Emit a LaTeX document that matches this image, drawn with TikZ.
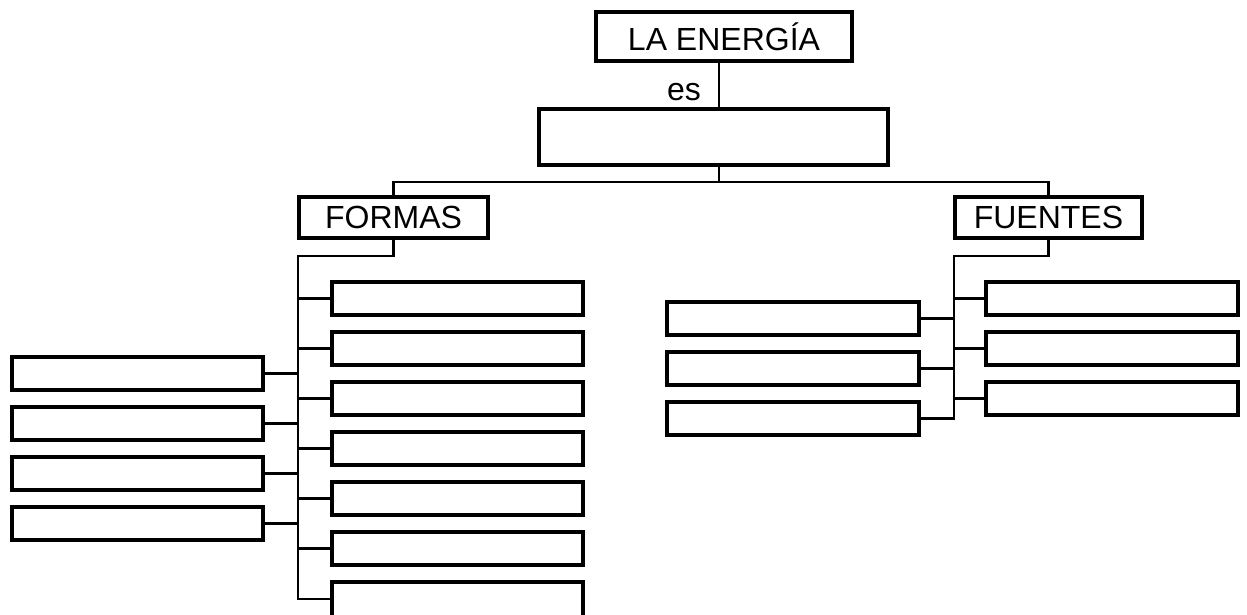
\documentclass[tikz,border=0pt]{standalone}
\usepackage{fontspec}
\setmainfont{Liberation Sans}
\begin{document}
\begin{tikzpicture}[x=1pt,y=-1pt,
  box/.style={draw=black,line width=3.5pt,fill=white,inner sep=0pt,outer sep=0pt,
    minimum width=#1,font=\fontsize{32}{36}\selectfont},
  box/.default=252pt,
  wire/.style={draw=black,line width=2.5pt}]
\useasboundingbox (0,0) rectangle (1247,614);
% top
\node[box=256pt,minimum height=49pt] (energia) at (724,36.5) {LA ENERGÍA};
\node[box=349pt,minimum height=56pt] (big) at (713.5,137) {};
\node[font=\fontsize{32}{36}\selectfont,inner sep=0pt,anchor=base] (es) at (684,100) {es};
\node[box=189pt,minimum height=41pt] (formas) at (393.5,217.5) {FORMAS};
\node[box=187pt,minimum height=41pt] (fuentes) at (1048.5,217.5) {FUENTES};
\coordinate (vline) at (719,0);
\coordinate (bus) at (0,182);
\coordinate (fbus) at (298,256);
\coordinate (ubus) at (954,256);
\coordinate (f7c) at (0,599);
% formas right column
\foreach \i in {1,...,6}{
  \node[box=251pt,minimum height=33pt] (fr\i) at (457.5,{298.5+50*(\i-1)}) {};
}
\node[box=251pt,minimum height=50pt] (fr7) at (457.5,607) {};
% formas left column
\foreach \i in {1,...,4}{
  \node[box=251pt,minimum height=33pt] (fl\i) at (137.5,{373.5+50*(\i-1)}) {};
}
% fuentes right column
\foreach \i in {1,...,3}{
  \node[box=252pt,minimum height=33pt] (ur\i) at (1112,{298.5+50*(\i-1)}) {};
}
% fuentes left column
\foreach \i in {1,...,3}{
  \node[box=252pt,minimum height=33pt] (ul\i) at (793,{318.5+50*(\i-1)}) {};
}
% connectors
\draw[wire] (vline |- energia.south) -- (vline |- big.north);
\draw[wire] (vline |- big.south) -- (vline |- bus);
\draw[wire] (formas.north) -- (formas.north |- bus) -- (fuentes.north |- bus) -- (fuentes.north);
\draw[wire] (formas.south) -- (formas.south |- fbus) -- (fbus) -- (fbus |- f7c) -- (fr7.west |- f7c);
\foreach \i in {1,...,6}{ \draw[wire] (fbus |- fr\i.west) -- (fr\i.west); }
\foreach \i in {1,...,4}{ \draw[wire] (fl\i.east) -- (fbus |- fl\i.east); }
\draw[wire] (fuentes.south) -- (fuentes.south |- ubus) -- (ubus) -- (ubus |- ul3.east) -- (ul3.east);
\foreach \i in {1,...,3}{ \draw[wire] (ubus |- ur\i.west) -- (ur\i.west); }
\foreach \i in {1,2}{ \draw[wire] (ul\i.east) -- (ubus |- ul\i.east); }
\end{tikzpicture}
\end{document}
